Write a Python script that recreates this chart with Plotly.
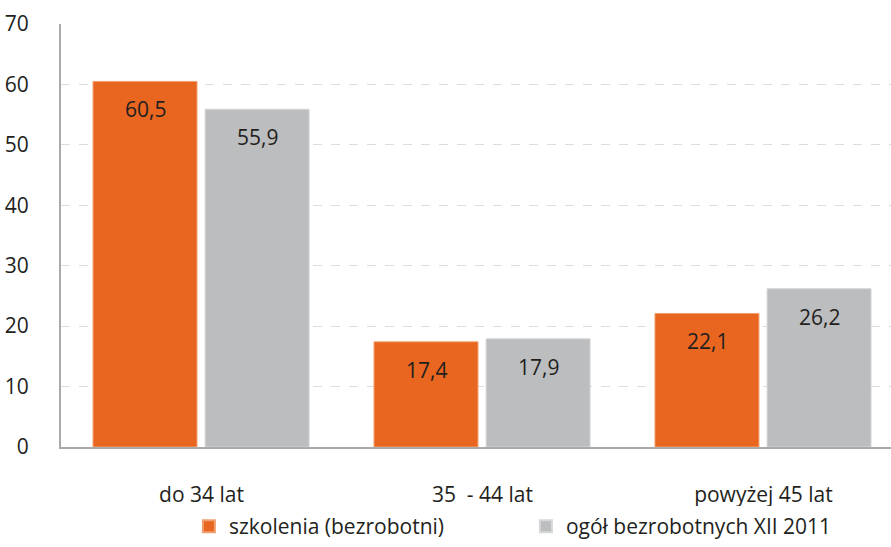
import plotly.graph_objects as go

categories = ["do 34 lat", "35  - 44 lat", "powyżej 45 lat"]
szkolenia = [60.5, 17.4, 22.1]
ogol = [55.9, 17.9, 26.2]
series_names = ["szkolenia (bezrobotni)", "ogół bezrobotnych XII 2011"]
y_ticks = [0, 10, 20, 30, 40, 50, 60, 70]

ORANGE = "#E8661F"
GRAY = "#BCBDBF"
FONT = "Open Sans"
TXT = "#231F20"

def fmt(v):
    return f"{v:.1f}".replace(".", ",")

BAR_W = 0.37
OFFSETS = [-0.386, 0.013]

fig = go.Figure()
for name, vals, col, edge, off in [
    (series_names[0], szkolenia, ORANGE, "#F0A070", OFFSETS[0]),
    (series_names[1], ogol, GRAY, "#D6D7D8", OFFSETS[1]),
]:
    fig.add_trace(go.Bar(
        x=categories, y=vals, name=name,
        width=BAR_W, offset=off,
        marker=dict(color=col, line=dict(color=edge, width=1)),
    ))

# value labels just below the top of each bar
px_per_unit = 280.7
for vals, off in [(szkolenia, OFFSETS[0]), (ogol, OFFSETS[1])]:
    for c, v in zip(categories, vals):
        fig.add_annotation(
            x=c, y=v, xref="x", yref="y",
            text=fmt(v), showarrow=False,
            xshift=(off + BAR_W / 2) * px_per_unit, yshift=-28,
            yanchor="middle",
            font=dict(family=FONT, size=21, color=TXT),
        )

fig.update_layout(
    width=891, height=547,
    margin=dict(l=61, r=0, t=24, b=100),
    paper_bgcolor="white", plot_bgcolor="white",
    font=dict(family=FONT, size=21, color=TXT),
    barmode="group",
    showlegend=True,
    legend=dict(
        orientation="h", xref="container", yref="container",
        x=0.212, xanchor="left", y=0.0, yanchor="bottom",
        entrywidth=292, entrywidthmode="pixels",
        font=dict(family=FONT, size=21, color=TXT),
        itemsizing="constant",
    ),
    xaxis=dict(
        range=[-0.5, 2.454], automargin=False,
        showline=True, linecolor="#AAAAAA", linewidth=2,
        showgrid=False, ticks="outside", ticklen=0,
        ticklabelstandoff=28,
        tickfont=dict(family=FONT, size=21),
    ),
    yaxis=dict(
        range=[0, 70], tickvals=y_ticks, automargin=False,
        showline=True, linecolor="#AAAAAA", linewidth=2,
        showgrid=True, gridcolor="#DDDDDD", griddash="dash", gridwidth=1,
        ticks="outside", ticklen=0, ticklabelstandoff=26,
        tickfont=dict(family=FONT, size=21),
        zeroline=False,
    ),
)

fig.write_html("out.html")
